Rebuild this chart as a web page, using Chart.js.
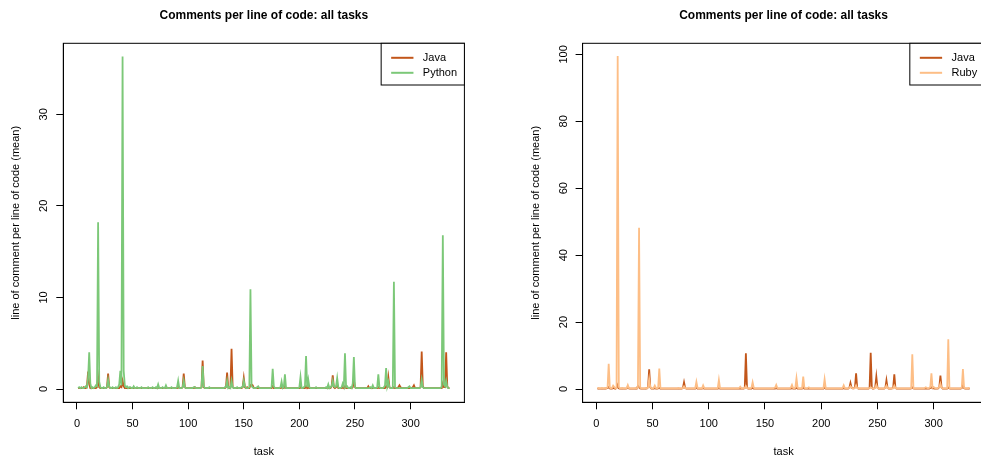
<!DOCTYPE html>
<html>
<head>
<meta charset="utf-8">
<title>Comments per line of code</title>
<script src="https://cdn.jsdelivr.net/npm/chart.js@4.4.1/dist/chart.umd.min.js"></script>
<style>
html, body { margin: 0; padding: 0; background: #fff; overflow: hidden; }
#wrap { position: relative; width: 981px; height: 461px; overflow: hidden; }
#c1 { position: absolute; left: 0; top: 0; }
#c2 { position: absolute; left: 490px; top: 0; }
</style>
</head>
<body>
<div id="wrap">
  <canvas id="c1" width="490" height="461"></canvas>
  <canvas id="c2" width="520" height="461"></canvas>
</div>
<script>
// mean lines of comment per line of code, one value per task (task 1..N)
var javaVsPython = [
  0.1,0.1,0.1,0.1,0.1,0.2,0.1,0.1,0.3,1.9,0.5,0.1,0.1,0.1,0.1,0.1,0.1,0.2,1.3,0.2,
  0.1,0.1,0.1,0.1,0.1,0.1,0.2,1.7,0.2,0.1,0.1,0.1,0.1,0.1,0.1,0.1,0.1,0.1,0.3,0.2,
  0.9,0.3,0.1,0.1,0.1,0.1,0.1,0.1,0.1,0.1,0.1,0.1,0.1,0.1,0.1,0.1,0.1,0.1,0.1,0.1,
  0.1,0.1,0.1,0.1,0.1,0.1,0.1,0.1,0.1,0.1,0.1,0.1,0.2,0.1,0.1,0.1,0.1,0.1,0.1,0.2,
  0.1,0.1,0.1,0.1,0.1,0.1,0.1,0.1,0.1,0.1,0.3,0.1,0.1,0.1,0.2,1.7,0.2,0.1,0.1,0.1,
  0.1,0.1,0.1,0.1,0.1,0.2,0.1,0.1,0.1,0.1,0.1,0.2,3.1,0.2,0.1,0.1,0.1,0.1,0.1,0.1,
  0.1,0.1,0.1,0.1,0.1,0.1,0.1,0.1,0.1,0.1,0.1,0.1,0.1,0.2,1.8,0.2,0.1,0.2,4.4,0.2,
  0.1,0.1,0.1,0.1,0.1,0.1,0.1,0.1,0.2,1.2,0.2,0.1,0.2,0.1,0.1,0.4,0.5,0.4,0.1,0.1,
  0.1,0.1,0.1,0.1,0.1,0.1,0.1,0.1,0.1,0.1,0.1,0.1,0.1,0.1,0.1,0.3,0.1,0.1,0.1,0.1,
  0.1,0.1,0.1,0.2,0.1,0.1,0.3,0.1,0.1,0.1,0.1,0.1,0.1,0.1,0.1,0.1,0.1,0.1,0.1,0.1,
  0.2,0.1,0.1,0.1,0.1,0.3,0.1,0.2,0.1,0.1,0.1,0.1,0.1,0.1,0.1,0.1,0.1,0.1,0.1,0.1,
  0.1,0.1,0.1,0.1,0.1,0.2,0.1,0.1,0.3,1.5,0.2,0.1,0.2,0.5,0.1,0.1,0.1,0.1,0.2,0.1,
  0.3,0.1,0.1,0.1,0.1,0.1,0.1,0.2,1.0,0.2,0.1,0.1,0.1,0.1,0.1,0.1,0.1,0.1,0.1,0.1,
  0.1,0.3,0.1,0.1,0.1,0.1,0.1,0.1,0.1,0.1,0.2,0.1,0.1,0.1,0.1,0.1,0.1,0.3,0.2,1.3,
  0.2,0.1,0.1,0.1,0.2,0.1,0.1,0.1,0.2,0.4,0.2,0.1,0.1,0.1,0.1,0.1,0.1,0.1,0.1,0.1,
  0.1,0.2,0.4,0.1,0.1,0.1,0.1,0.1,0.2,4.1,0.3,0.1,0.1,0.1,0.1,0.1,0.1,0.1,0.1,0.1,
  0.1,0.1,0.1,0.1,0.1,0.1,0.1,0.1,0.6,0.2,0.2,4.0,0.3,0.1,0.1
];
var python = [
  0.1,0.2,0.1,0.2,0.1,0.1,0.2,0.3,0.2,1.2,4.0,0.6,0.1,0.2,0.1,0.2,0.4,0.3,18.2,0.8,
  0.2,0.1,0.1,0.2,0.1,0.1,0.2,1.0,0.3,0.1,0.1,0.2,0.1,0.1,0.2,0.1,0.2,0.5,2.0,0.4,
  36.3,2.0,0.4,0.2,0.3,0.1,0.2,0.2,0.1,0.1,0.3,0.1,0.1,0.2,0.1,0.1,0.1,0.2,0.1,0.1,
  0.1,0.1,0.1,0.2,0.1,0.1,0.1,0.2,0.1,0.1,0.2,0.1,0.5,0.1,0.1,0.1,0.2,0.1,0.1,0.4,
  0.1,0.1,0.1,0.1,0.2,0.1,0.1,0.1,0.1,0.2,0.9,0.1,0.1,0.1,0.2,0.9,0.2,0.1,0.1,0.1,
  0.1,0.1,0.1,0.1,0.2,0.2,0.1,0.1,0.1,0.1,0.1,0.2,2.5,0.3,0.1,0.1,0.1,0.1,0.2,0.1,
  0.1,0.1,0.1,0.1,0.1,0.1,0.1,0.1,0.1,0.1,0.1,0.1,0.2,0.2,0.9,0.1,0.2,0.1,0.9,0.2,
  0.1,0.1,0.1,0.2,0.1,0.1,0.1,0.2,0.2,0.9,0.3,0.1,0.1,0.1,0.2,10.9,0.3,0.2,0.1,0.1,
  0.1,0.2,0.3,0.1,0.1,0.1,0.1,0.1,0.1,0.1,0.1,0.1,0.1,0.1,0.2,2.2,0.3,0.1,0.1,0.1,
  0.1,0.1,0.2,0.8,0.1,0.2,1.6,0.1,0.1,0.1,0.1,0.1,0.1,0.1,0.1,0.1,0.1,0.1,0.1,0.2,
  1.3,0.1,0.1,0.2,0.3,3.6,0.2,1.0,0.2,0.1,0.1,0.1,0.1,0.1,0.2,0.1,0.1,0.1,0.1,0.1,
  0.1,0.1,0.1,0.2,0.1,0.5,0.1,0.2,0.3,0.9,0.3,0.2,0.3,1.2,0.2,0.1,0.1,0.2,0.6,0.3,
  3.9,0.2,0.3,0.1,0.1,0.2,0.1,0.6,3.5,0.2,0.1,0.1,0.1,0.1,0.1,0.1,0.1,0.1,0.1,0.1,
  0.1,0.1,0.1,0.2,0.1,0.4,0.1,0.1,0.1,0.2,1.6,0.2,0.1,0.1,0.1,0.2,0.4,2.3,0.3,0.8,
  0.2,0.1,0.1,0.1,11.7,0.2,0.1,0.1,0.1,0.1,0.1,0.1,0.1,0.1,0.1,0.1,0.1,0.2,0.3,0.1,
  0.1,0.1,0.1,0.1,0.1,0.1,0.1,0.1,0.2,1.0,0.2,0.1,0.1,0.1,0.1,0.1,0.1,0.1,0.1,0.1,
  0.1,0.1,0.1,0.1,0.1,0.1,0.1,0.3,16.8,0.5,0.3,0.9,0.2,0.1,0.1
];
var javaVsRuby = [
  0.1,0.1,0.1,0.1,0.1,0.1,0.1,0.1,0.2,0.3,0.6,0.2,0.1,0.1,0.3,0.2,0.1,0.3,1.2,0.2,
  0.1,0.1,0.1,0.1,0.1,0.1,0.2,0.6,0.2,0.1,0.1,0.1,0.1,0.1,0.1,0.1,0.9,0.5,0.2,0.1,
  0.1,0.1,0.1,0.1,0.2,0.6,5.9,0.5,0.1,0.1,0.1,0.3,0.1,0.1,0.2,0.3,0.1,0.1,0.1,0.1,
  0.1,0.1,0.1,0.1,0.1,0.1,0.1,0.1,0.1,0.1,0.1,0.1,0.1,0.1,0.1,0.1,0.3,2.0,0.3,0.1,
  0.1,0.1,0.1,0.1,0.1,0.1,0.1,0.1,0.4,0.1,0.1,0.1,0.1,0.1,0.3,0.1,0.1,0.1,0.1,0.1,
  0.1,0.1,0.1,0.1,0.1,0.1,0.1,0.1,0.3,0.1,0.1,0.1,0.1,0.1,0.1,0.1,0.1,0.1,0.1,0.1,
  0.1,0.1,0.1,0.1,0.1,0.1,0.1,0.2,0.1,0.1,0.1,0.3,10.7,0.4,0.1,0.1,0.1,0.1,0.4,0.1,
  0.1,0.1,0.1,0.1,0.1,0.1,0.1,0.1,0.1,0.1,0.1,0.1,0.1,0.1,0.1,0.1,0.1,0.1,0.1,0.3,
  0.1,0.1,0.1,0.1,0.1,0.1,0.1,0.1,0.1,0.1,0.1,0.1,0.1,0.3,0.1,0.1,0.1,0.4,0.1,0.1,
  0.1,0.1,0.1,0.5,0.1,0.1,0.1,0.1,0.1,0.1,0.1,0.1,0.1,0.1,0.1,0.1,0.1,0.1,0.1,0.1,
  0.1,0.1,0.4,0.1,0.1,0.1,0.1,0.1,0.1,0.1,0.1,0.1,0.1,0.1,0.1,0.1,0.1,0.1,0.1,0.3,
  0.1,0.1,0.1,0.1,0.3,1.8,0.4,0.2,0.2,0.5,4.7,0.4,0.1,0.1,0.1,0.1,0.1,0.1,0.1,0.1,
  0.1,0.1,0.3,10.8,0.4,0.1,0.2,0.5,3.7,0.4,0.1,0.1,0.1,0.1,0.1,0.1,0.3,2.6,0.3,0.1,
  0.1,0.1,0.2,0.4,4.4,0.3,0.1,0.1,0.1,0.1,0.1,0.1,0.1,0.1,0.1,0.1,0.1,0.1,0.1,0.2,
  0.5,0.2,0.1,0.1,0.1,0.1,0.1,0.1,0.1,0.1,0.1,0.1,0.1,0.1,0.1,0.1,0.3,0.5,0.2,0.2,
  0.1,0.1,0.1,0.2,0.6,4.0,0.5,0.1,0.1,0.1,0.1,0.1,0.4,0.2,0.1,0.1,0.1,0.1,0.1,0.1,
  0.1,0.1,0.1,0.1,0.3,1.0,0.3,0.1,0.1,0.1,0.1,0.1
];
var ruby = [
  0.2,0.3,0.2,0.2,0.3,0.2,0.2,0.3,0.2,0.5,7.5,0.4,0.2,0.3,1.0,0.6,0.2,0.3,99.5,0.6,
  0.2,0.2,0.3,0.2,0.2,0.2,0.3,1.2,0.3,0.2,0.2,0.2,0.2,0.2,0.3,0.2,0.5,48.2,0.4,0.2,
  0.2,0.2,0.2,0.3,0.2,0.4,3.0,0.6,0.2,0.2,0.3,1.0,0.3,0.2,0.4,6.1,0.3,0.2,0.2,0.2,
  0.2,0.2,0.2,0.2,0.2,0.2,0.2,0.2,0.2,0.2,0.2,0.2,0.3,0.2,0.2,0.2,0.3,0.8,0.3,0.2,
  0.2,0.2,0.2,0.2,0.2,0.2,0.2,0.3,2.1,0.3,0.2,0.2,0.2,0.2,1.1,0.3,0.2,0.2,0.2,0.2,
  0.2,0.2,0.2,0.2,0.2,0.2,0.2,0.3,2.7,0.3,0.2,0.2,0.2,0.2,0.2,0.2,0.2,0.2,0.2,0.2,
  0.2,0.2,0.2,0.2,0.2,0.2,0.3,0.7,0.2,0.2,0.2,0.3,0.9,0.3,0.2,0.2,0.2,0.4,2.0,0.4,
  0.2,0.2,0.2,0.2,0.2,0.2,0.2,0.2,0.2,0.2,0.2,0.2,0.2,0.2,0.2,0.2,0.2,0.3,0.4,1.2,
  0.3,0.2,0.2,0.2,0.2,0.2,0.2,0.2,0.2,0.2,0.2,0.2,0.4,1.2,0.3,0.2,0.4,3.2,0.4,0.2,
  0.2,0.2,0.3,3.7,0.4,0.2,0.2,0.3,0.5,0.2,0.2,0.2,0.2,0.2,0.2,0.2,0.2,0.2,0.2,0.2,
  0.2,0.3,2.9,0.3,0.2,0.2,0.2,0.2,0.2,0.2,0.2,0.2,0.2,0.2,0.2,0.2,0.2,0.2,0.3,1.1,
  0.3,0.2,0.2,0.2,0.3,0.8,0.4,0.2,0.2,0.3,1.1,0.3,0.2,0.2,0.2,0.2,0.2,0.2,0.2,0.2,
  0.2,0.2,0.3,0.5,0.3,0.2,0.2,0.3,1.2,0.3,0.2,0.2,0.2,0.2,0.2,0.2,0.3,1.0,0.3,0.2,
  0.2,0.2,0.2,0.2,1.0,0.3,0.2,0.2,0.2,0.2,0.2,0.2,0.2,0.2,0.2,0.2,0.2,0.2,0.2,0.3,
  10.4,0.3,0.2,0.2,0.2,0.2,0.2,0.2,0.2,0.2,0.2,0.3,0.5,0.3,0.2,0.3,0.6,4.7,0.4,0.6,
  0.3,0.2,0.2,0.3,0.6,1.6,0.4,0.2,0.2,0.2,0.2,0.3,14.9,0.3,0.2,0.2,0.2,0.2,0.2,0.2,
  0.2,0.2,0.2,0.2,0.4,6.0,0.4,0.2,0.2,0.2,0.3,0.2
];

var xTicksStep = 50;
var yTicksLeft = 10;
var yTicksRight = 20;

var JAVA_COL = '#C2561A';
var PY_COL = '#7CC878';
var RUBY_COL = '#FDBE86';
var FONT = '"Liberation Sans", Arial, Helvetica, sans-serif';

Chart.defaults.font.family = FONT;
Chart.defaults.color = '#000';

function toPoints(arr) {
    return arr.map(function (v, i) { return { x: i + 1, y: v }; });
}

// R-like frame: box, title, rotated y tick labels, axis titles, legend
var rFrame = {
    id: 'rFrame',
    afterDraw: function (chart, args, o) {
        var ctx = chart.ctx;
        var a = chart.chartArea;
        var ys = chart.scales.y;
        ctx.save();
        ctx.strokeStyle = '#000';
        ctx.lineWidth = 1;
        ctx.strokeRect(a.left, a.top, a.right - a.left, a.bottom - a.top);

        ctx.fillStyle = '#000';
        ctx.font = 'bold 12px ' + FONT;
        ctx.textAlign = 'center';
        ctx.textBaseline = 'middle';
        ctx.fillText(o.title, (a.left + a.right) / 2, 16);

        ctx.font = '11px ' + FONT;
        ctx.textBaseline = 'alphabetic';
        ys.ticks.forEach(function (t) {
            var py = ys.getPixelForValue(t.value);
            ctx.save();
            ctx.translate(a.left - 16, py);
            ctx.rotate(-Math.PI / 2);
            ctx.fillText(String(t.value), 0, 0);
            ctx.restore();
        });

        ctx.save();
        ctx.translate(a.left - 44, (a.top + a.bottom) / 2);
        ctx.rotate(-Math.PI / 2);
        ctx.fillText(o.yTitle, 0, 0);
        ctx.restore();

        ctx.fillText(o.xTitle, (a.left + a.right) / 2, 455);

        // legend box in the top right corner
        var names = o.legend;
        var tw = Math.max.apply(null, names.map(function (n) { return ctx.measureText(n.label).width; }));
        var bw = 42 + tw + 7;
        var bx = a.right - bw;
        var by = a.top;
        ctx.fillStyle = '#fff';
        ctx.fillRect(bx, by, bw, 41.7);
        ctx.strokeRect(bx, by, bw, 41.7);
        ctx.textAlign = 'left';
        ctx.textBaseline = 'middle';
        names.forEach(function (n, i) {
            var ly = by + 14.5 + i * 15;
            ctx.strokeStyle = n.color;
            ctx.lineWidth = 2;
            ctx.beginPath();
            ctx.moveTo(bx + 10, ly);
            ctx.lineTo(bx + 32.3, ly);
            ctx.stroke();
            ctx.fillStyle = '#000';
            ctx.fillText(n.label, bx + 41.7, ly);
        });
        ctx.restore();
    }
};

function makeChart(id, cfg) {
    var ctx = document.getElementById(id).getContext('2d');
    return new Chart(ctx, {
        type: 'line',
        data: {
            // first dataset is drawn on top
            datasets: [{
                label: cfg.otherName,
                data: toPoints(cfg.other),
                borderColor: cfg.otherColor,
                borderWidth: 1.8,
                pointRadius: 0,
                tension: 0
            }, {
                label: 'Java',
                data: toPoints(cfg.java),
                borderColor: JAVA_COL,
                borderWidth: 1.8,
                pointRadius: 0,
                tension: 0
            }]
        },
        options: {
            responsive: false,
            animation: false,
            layout: { padding: { top: 43.3, right: cfg.padRight, left: 0, bottom: 0 } },
            plugins: {
                legend: { display: false },
                tooltip: { enabled: false },
                rFrame: {
                    title: 'Comments per line of code: all tasks',
                    xTitle: 'task',
                    yTitle: 'line of comment per line of code (mean)',
                    legend: [
                        { label: 'Java', color: JAVA_COL },
                        { label: cfg.otherName, color: cfg.otherColor }
                    ]
                }
            },
            scales: {
                x: {
                    type: 'linear',
                    min: cfg.xMin,
                    max: cfg.xMax,
                    afterFit: function (s) { s.height = 58.7; },
                    ticks: { stepSize: xTicksStep, includeBounds: false, autoSkip: false,
                             maxRotation: 0, padding: 8, color: '#000', font: { size: 11 } },
                    grid: { display: true, drawOnChartArea: false, drawTicks: true, tickLength: 7, color: '#000' },
                    border: { display: true, color: '#000' }
                },
                y: {
                    min: cfg.yMin,
                    max: cfg.yMax,
                    afterFit: function (s) { s.width = cfg.yWidth; },
                    ticks: { stepSize: cfg.yStep, includeBounds: false, display: false },
                    grid: { display: true, drawOnChartArea: false, drawTicks: true, tickLength: 7, color: '#000' },
                    border: { display: true, color: '#000' }
                }
            }
        },
        plugins: [rFrame]
    });
}

makeChart('c1', {
    java: javaVsPython, other: python, otherName: 'Python', otherColor: PY_COL,
    xMin: -12.3, xMax: 348.4, yMin: -1.45, yMax: 37.75, yStep: yTicksLeft,
    yWidth: 63.3, padRight: 25.6
});
makeChart('c2', {
    java: javaVsRuby, other: ruby, otherName: 'Ruby', otherColor: RUBY_COL,
    xMin: -12.2, xMax: 345.2, yMin: -3.97, yMax: 103.3, yStep: yTicksRight,
    yWidth: 92.6, padRight: 25.5
});
</script>
</body>
</html>
